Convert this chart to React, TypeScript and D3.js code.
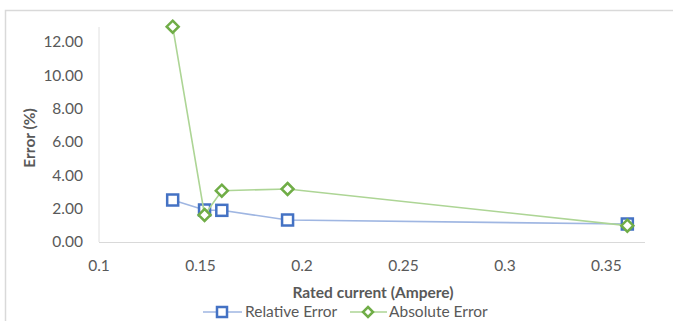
import React from "react";
import * as d3 from "d3";

const ratedCurrent = [0.1363, 0.152, 0.1605, 0.1929, 0.3603];
const relativeError = [2.52, 1.92, 1.9, 1.32, 1.08];
const absoluteError = [12.92, 1.62, 3.08, 3.18, 0.98];
const xTicks = [0.1, 0.15, 0.2, 0.25, 0.3, 0.35];
const yTicks = [0, 2, 4, 6, 8, 10, 12];

const W = 673;
const H = 321;
const FONT = "Lato, 'Open Sans', sans-serif";
const FS = 15.5;

export default function App() {
  const x = d3.scaleLinear().domain([0.1, 0.369]).range([99, 645]);
  const y = d3.scaleLinear().domain([0, 12]).range([242, 42]);
  const line = d3
    .line<[number, number]>()
    .x((d) => x(d[0]))
    .y((d) => y(d[1]));
  const rel: [number, number][] = ratedCurrent.map((c, i) => [c, relativeError[i]]);
  const abs: [number, number][] = ratedCurrent.map((c, i) => [c, absoluteError[i]]);
  const blue = "#4472C4";
  const blueLine = "#9fb6e2";
  const green = "#70AD47";
  const greenLine = "#add595";
  const sq = 5.5;
  const dm = 6;
  const diamond = (cx: number, cy: number) =>
    `M${cx},${cy - dm}L${cx + dm},${cy}L${cx},${cy + dm}L${cx - dm},${cy}Z`;

  return (
    <svg
      width={W}
      height={H}
      style={{ position: "absolute", left: 0, top: 0, background: "#fff" }}
      fontFamily={FONT}
    >
      <rect x={5.5} y={10.5} width={700} height={400} fill="#fff" stroke="#d9d9d9" strokeWidth={1.5} />
      <line x1={99} x2={99} y1={27} y2={242} stroke="#e0e0e0" strokeWidth={1} />
      <line x1={99} x2={645} y1={242.5} y2={242.5} stroke="#d9d9d9" strokeWidth={1.2} />
      {yTicks.map((t) => (
        <text key={t} x={83} y={y(t)} dy="0.35em" textAnchor="end" fontSize={FS} fill="#595959">
          {t.toFixed(2)}
        </text>
      ))}
      {xTicks.map((t) => (
        <text key={t} x={x(t)} y={266} dy="0.35em" textAnchor="middle" fontSize={FS} fill="#595959">
          {String(t)}
        </text>
      ))}
      <text
        transform={`translate(30,138) rotate(-90)`}
        textAnchor="middle"
        dy="0.35em"
        fontSize={FS}
        fontWeight="bold"
        fill="#595959"
      >
        Error (%)
      </text>
      <text x={373} y={293} dy="0.35em" textAnchor="middle" fontSize={FS} fontWeight="bold" fill="#595959">
        Rated current (Ampere)
      </text>
      <path d={line(rel) || ""} fill="none" stroke={blueLine} strokeWidth={1.6} />
      {rel.map((d, i) => (
        <rect
          key={i}
          x={x(d[0]) - sq}
          y={y(d[1]) - sq}
          width={sq * 2}
          height={sq * 2}
          fill="#fff"
          stroke={blue}
          strokeWidth={2.5}
        />
      ))}
      <path d={line(abs) || ""} fill="none" stroke={greenLine} strokeWidth={1.6} />
      {abs.map((d, i) => (
        <path key={i} d={diamond(x(d[0]), y(d[1]))} fill="#fff" stroke={green} strokeWidth={2.5} />
      ))}
      <line x1={203} x2={242} y1={312} y2={312} stroke={blueLine} strokeWidth={1.6} />
      <rect x={222 - 5} y={312 - 5} width={10} height={10} fill="#fff" stroke={blue} strokeWidth={2.5} />
      <text x={245} y={312} dy="0.35em" fontSize={FS} fill="#595959">
        Relative Error
      </text>
      <line x1={350} x2={387} y1={312} y2={312} stroke={greenLine} strokeWidth={1.6} />
      <path d={`M368,307L373,312L368,317L363,312Z`} fill="#fff" stroke={green} strokeWidth={2.5} />
      <text x={389} y={312} dy="0.35em" fontSize={FS} fill="#595959">
        Absolute Error
      </text>
    </svg>
  );
}
